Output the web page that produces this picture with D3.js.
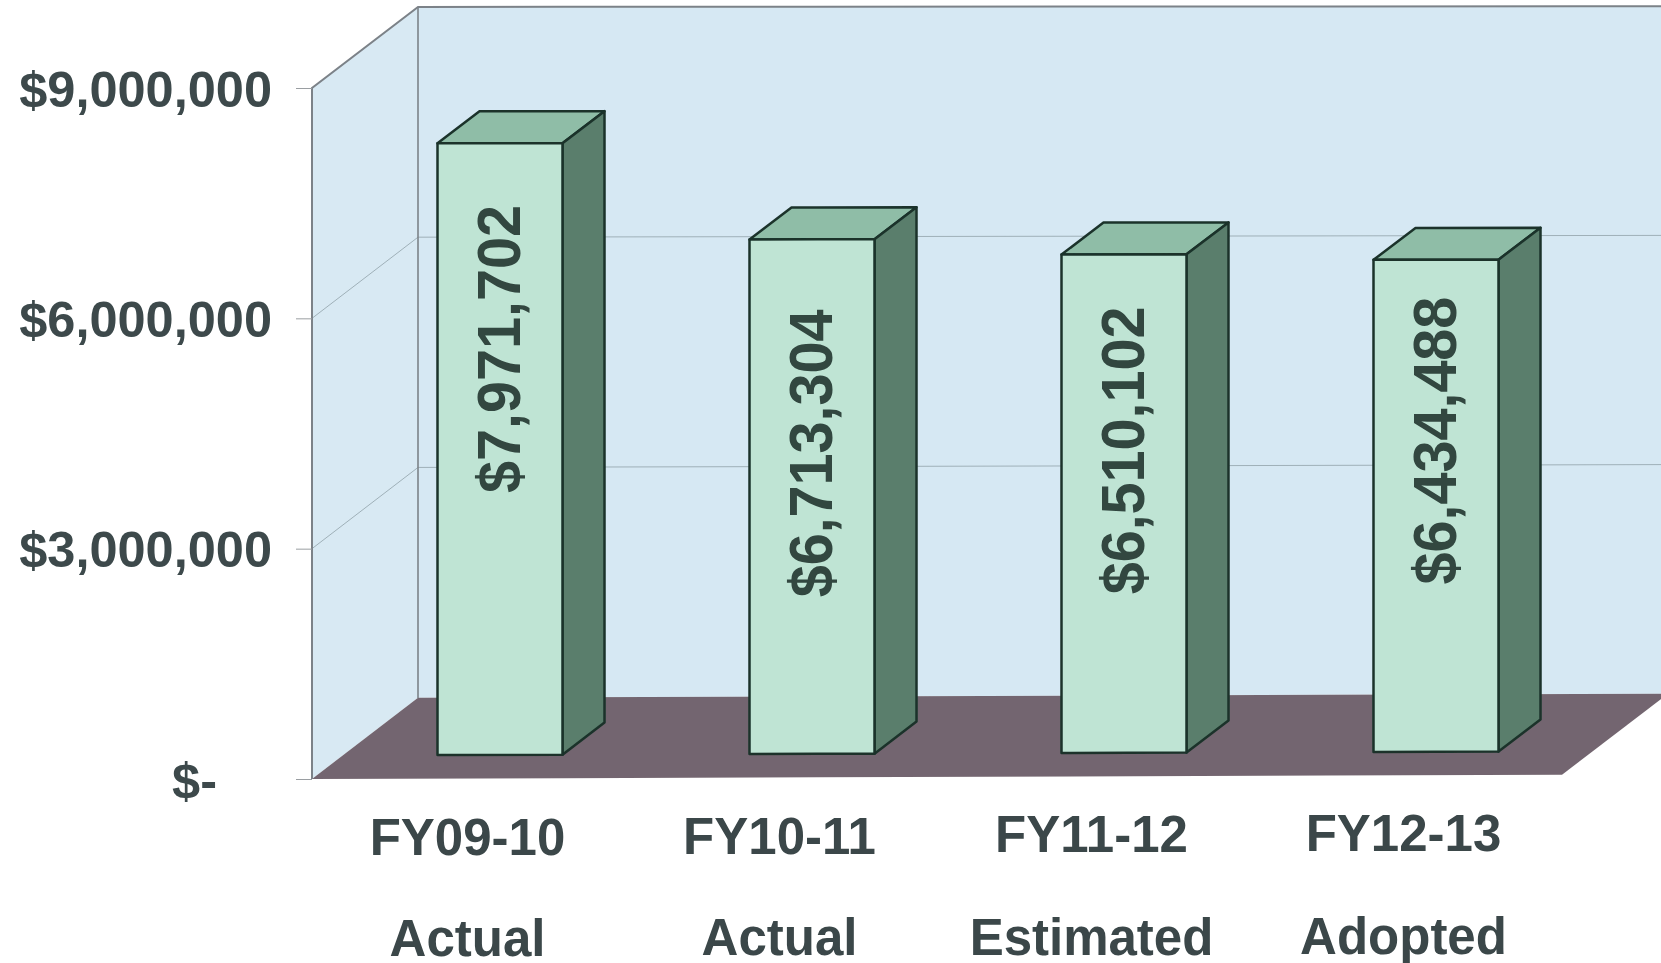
<!DOCTYPE html>
<html><head><meta charset="utf-8">
<script src="https://cdnjs.cloudflare.com/ajax/libs/d3/7.8.5/d3.min.js"></script>
<style>html,body{margin:0;padding:0;background:#fff;overflow:hidden}svg{display:block}text{font-family:"Liberation Sans",Arial,sans-serif;font-weight:700}</style>
</head><body>
<script>
const categories = ["FY09-10","FY10-11","FY11-12","FY12-13"];
const statuses = ["Actual","Actual","Estimated","Adopted"];
const values = [7971702,6713304,6510102,6434488];
const valueLabels = ["$7,971,702","$6,713,304","$6,510,102","$6,434,488"];
const labelCentres = [5290000,3920000,3950000,4070000];
const tickValues = [0,3000000,6000000,9000000];

(function(){
const W=1661,H=963;
const X0=312,Y0=779,Y9=88;
const wallDx=106,wallDy=-81;
const barDx=42,barDy=-32,floorInset=23.5;
const svg=d3.select("body").append("svg").attr("width",W).attr("height",H);
const defs=svg.append("defs");
defs.append("filter").attr("id","scan").attr("filterUnits","userSpaceOnUse").attr("x",0).attr("y",0).attr("width",W).attr("height",H)
  .append("feGaussianBlur").attr("stdDeviation",0.55);
const root=svg.append("g").attr("filter","url(#scan)");

// the scanned page is slightly warped: the tilt grows towards the bottom
const tilt=yy=>0.0006+Math.max(0,yy-7)/772*0.0028;
const P=(px,py)=>[px,py-(px-X0)*tilt(py)];

const y=d3.scaleLinear().domain([0,9000000]).range([Y0,Y9]);
const step=312,barW=125;
const x=d3.scaleBand().domain(categories).range([437.5,437.5+step*3+barW]).paddingInner(1-barW/step).paddingOuter(0);

const pts=a=>a.map(p=>P(p[0],p[1]).join(",")).join(" ");
const right=1700;
// walls
root.append("polygon").attr("points",pts([[X0+wallDx,Y9+wallDy],[right,Y9+wallDy],[right,Y0+wallDy],[X0+wallDx,Y0+wallDy]])).attr("fill","#d6e8f3");
root.append("polygon").attr("points",pts([[X0,Y9],[X0+wallDx,Y9+wallDy],[X0+wallDx,Y0+wallDy],[X0,Y0]])).attr("fill","#d8e9f3");
// floor
root.append("polygon").attr("points",pts([[X0,Y0],[X0+wallDx,Y0+wallDy],[1668,Y0+wallDy],[1562,Y0]])).attr("fill","#73656f");
// gridlines
tickValues.slice(1,3).forEach(v=>{
  root.append("polyline").attr("points",pts([[X0,y(v)],[X0+wallDx,y(v)+wallDy],[right,y(v)+wallDy]]))
    .attr("fill","none").attr("stroke","#9fb0b8").attr("stroke-width",1);
});
// wall edges
root.append("polyline").attr("points",pts([[X0,Y0],[X0,Y9],[X0+wallDx,Y9+wallDy],[right,Y9+wallDy]])).attr("fill","none").attr("stroke","#7c8288").attr("stroke-width",2);
root.append("line").attr("x1",X0+wallDx).attr("x2",X0+wallDx).attr("y1",Y9+wallDy).attr("y2",Y0+wallDy).attr("stroke","#7c8288").attr("stroke-width",1.6);

// y axis
const axis=d3.axisLeft(y).tickValues(tickValues).tickSize(16).tickPadding(24)
  .tickFormat(v=>v===0?"$-":d3.format("$,")(v));
const ga=root.append("g").attr("transform",`translate(${X0},0)`).call(axis);
ga.select(".domain").remove();
ga.selectAll(".tick line").attr("stroke","#9a9ea2").attr("stroke-width",1);
ga.selectAll(".tick text").attr("font-size",50.5).attr("fill","#3c4a4c").attr("dy","0.36em")
  .attr("dx",d=>d===0?-55:0);
ga.attr("font-family",null).attr("font-size",null);

// bars
const base=Y0-floorInset;
const g=root.selectAll(".bar").data(values).join("g").attr("class","bar");
const barTop=v=>base-(Y0-y(v));
const stroke="#1a332b";
g.append("polygon").attr("points",(v,i)=>{const l=x(categories[i]);return pts([[l,barTop(v)],[l+barDx,barTop(v)+barDy],[l+barW+barDx,barTop(v)+barDy],[l+barW,barTop(v)]]);})
  .attr("fill","#8fbda7");
g.append("polygon").attr("points",(v,i)=>{const l=x(categories[i])+barW;return pts([[l,barTop(v)],[l+barDx,barTop(v)+barDy],[l+barDx,base+barDy],[l,base]]);})
  .attr("fill","#5a7e6c");
g.append("polygon").attr("points",(v,i)=>{const l=x(categories[i]);return pts([[l,barTop(v)],[l+barW,barTop(v)],[l+barW,base],[l,base]]);})
  .attr("fill","#bfe4d4");
g.selectAll("*").attr("stroke",stroke).attr("stroke-width",2.5).attr("stroke-linejoin","round");
g.append("text").attr("transform",(v,i)=>{
    const p=P(x(categories[i])+barW/2-1.5,base-(Y0-y(labelCentres[i])));
    return `translate(${p[0]},${p[1]}) rotate(-90) scale(1,1.06)`;})
  .attr("text-anchor","middle").attr("dy","0.36em").attr("font-size",57.5).attr("fill","#30463f")
  .text((v,i)=>valueLabels[i]);

// category labels
const labelRow=(cls,data,baseline,slope)=>root.selectAll("."+cls).data(data).join("text").attr("class",cls)
  .attr("x",(d,i)=>x(categories[i])+30)
  .attr("y",(d,i)=>baseline-(x(categories[i])+30-467)*slope)
  .attr("text-anchor","middle").attr("font-size",51).attr("fill","#3a4648").text(d=>d);
labelRow("cat",categories,855,0.0045);
labelRow("stat",statuses,956,0.002);
})();
</script>
</body></html>
